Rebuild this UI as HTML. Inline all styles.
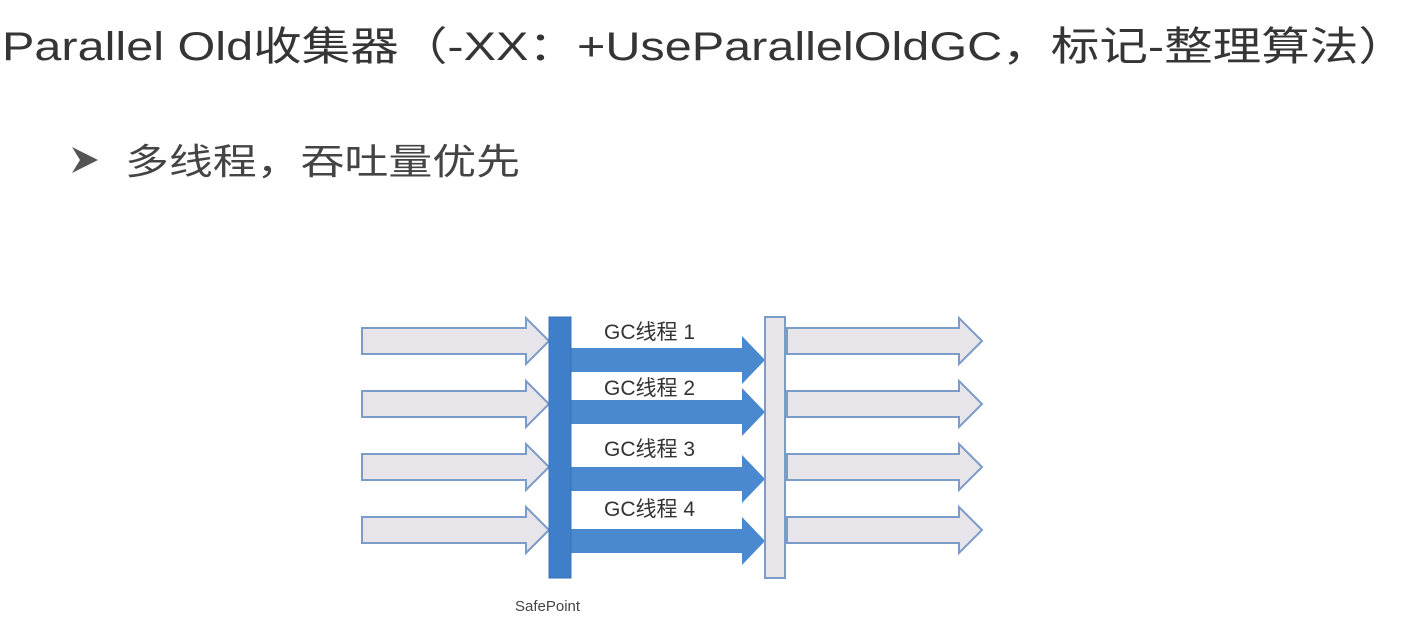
<!DOCTYPE html>
<html><head><meta charset="utf-8"><style>
html,body{margin:0;padding:0;background:#fff;width:1421px;height:624px;overflow:hidden}
</style></head><body>
<svg width="1421" height="624" xmlns="http://www.w3.org/2000/svg" font-family="'Liberation Sans','Noto Sans CJK SC',sans-serif">
<text x="2" y="60" font-size="40" fill="#353535" textLength="1405" lengthAdjust="spacingAndGlyphs">Parallel Old收集器（-XX：+UseParallelOldGC，标记-整理算法）</text>
<polygon points="72,147 98,160 72,173 80,160" fill="#555"/>
<text x="125" y="174" font-size="36" fill="#444" textLength="395" lengthAdjust="spacingAndGlyphs">多线程，吞吐量优先</text>
<g fill="#e8e5ea" stroke="#7b9bc9" stroke-width="2">
<polygon points="362,328 526,328 526,318 549,341 526,364 526,354 362,354"/>
<polygon points="362,391 526,391 526,381 549,404 526,427 526,417 362,417"/>
<polygon points="362,454 526,454 526,444 549,467 526,490 526,480 362,480"/>
<polygon points="362,517 526,517 526,507 549,530 526,553 526,543 362,543"/>
<polygon points="787,328 959,328 959,318 982,341 959,364 959,354 787,354"/>
<polygon points="787,391 959,391 959,381 982,404 959,427 959,417 787,417"/>
<polygon points="787,454 959,454 959,444 982,467 959,490 959,480 787,480"/>
<polygon points="787,517 959,517 959,507 982,530 959,553 959,543 787,543"/>
</g>
<g fill="#4a88cf">
<polygon points="571,348 742,348 742,336 765,360 742,384 742,372 571,372"/>
<polygon points="571,400 742,400 742,388 765,412 742,436 742,424 571,424"/>
<polygon points="571,467 742,467 742,455 765,479 742,503 742,491 571,491"/>
<polygon points="571,529 742,529 742,517 765,541 742,565 742,553 571,553"/>
</g>
<rect x="549" y="317" width="22" height="261" fill="#3f7fc9" stroke="#3a72b5" stroke-width="1"/>
<rect x="765" y="317" width="20" height="261" fill="#e8e5ea" stroke="#7b9bc9" stroke-width="2"/>
<g font-size="21" fill="#333">
<text x="604" y="339">GC线程 1</text>
<text x="604" y="395">GC线程 2</text>
<text x="604" y="456">GC线程 3</text>
<text x="604" y="516">GC线程 4</text>
</g>
<text x="515" y="611" font-size="15" fill="#444">SafePoint</text>
</svg>
</body></html>
